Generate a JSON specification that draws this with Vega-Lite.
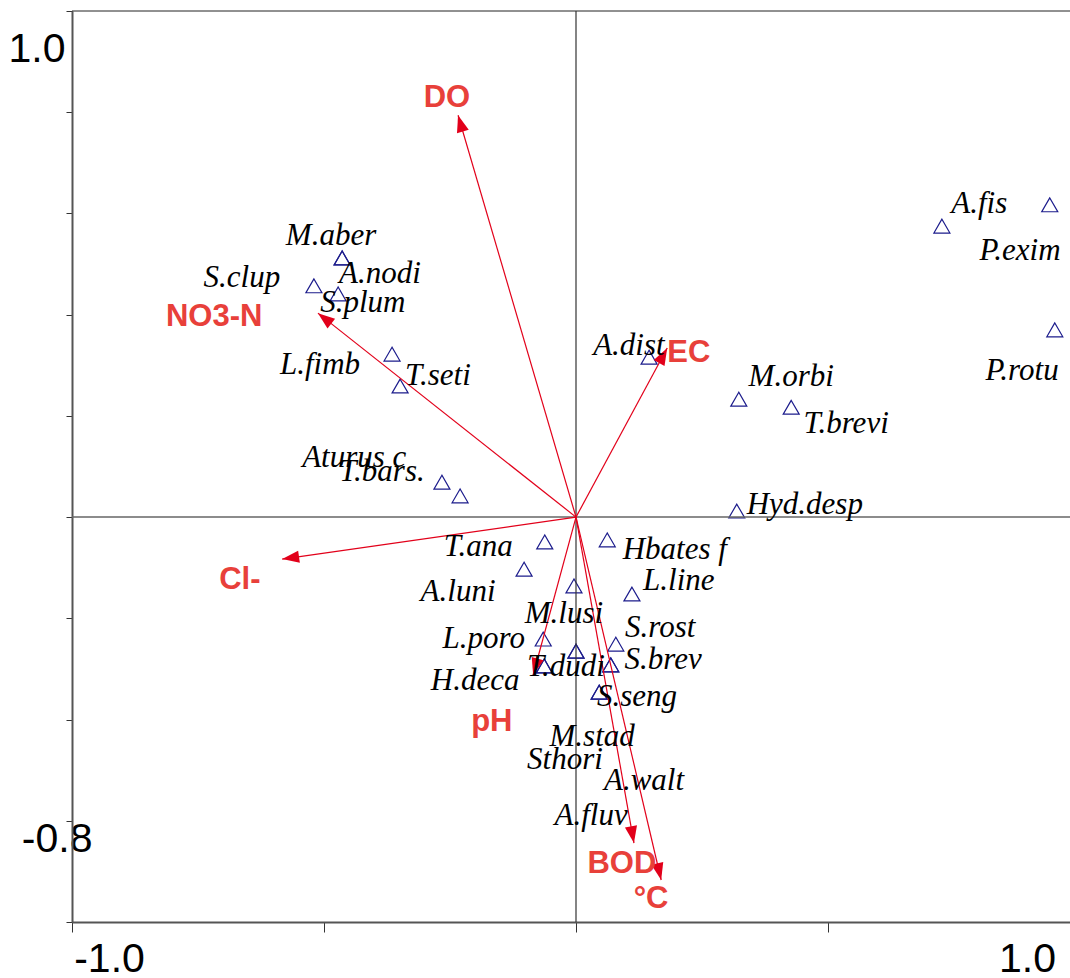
{
  "$schema": "https://vega.github.io/schema/vega-lite/v6.json",
  "width": 998,
  "height": 911,
  "autosize": {"type": "none"},
  "padding": {"left": 72, "top": 11, "right": 0, "bottom": 56},
  "background": "white",
  "config": {"view": {"stroke": null}},
  "datasets": {
    "species": [
      {"name": "A.fis", "x": 0.726, "y": 0.575, "lx": 0.800, "ly": 0.619},
      {"name": "P.exim", "x": 0.940, "y": 0.617, "lx": 0.881, "ly": 0.526},
      {"name": "P.rotu", "x": 0.950, "y": 0.370, "lx": 0.885, "ly": 0.289},
      {"name": "M.aber", "x": -0.464, "y": 0.512, "lx": -0.486, "ly": 0.555},
      {"name": "A.nodi", "x": -0.464, "y": 0.512, "lx": -0.389, "ly": 0.480},
      {"name": "S.clup", "x": -0.520, "y": 0.457, "lx": -0.663, "ly": 0.472},
      {"name": "S.plum", "x": -0.472, "y": 0.441, "lx": -0.423, "ly": 0.423},
      {"name": "L.fimb", "x": -0.365, "y": 0.322, "lx": -0.508, "ly": 0.300},
      {"name": "T.seti", "x": -0.349, "y": 0.259, "lx": -0.274, "ly": 0.279},
      {"name": "A.dist", "x": 0.145, "y": 0.316, "lx": 0.105, "ly": 0.338},
      {"name": "M.orbi", "x": 0.323, "y": 0.233, "lx": 0.427, "ly": 0.277},
      {"name": "T.brevi", "x": 0.427, "y": 0.217, "lx": 0.536, "ly": 0.184},
      {"name": "Hyd.desp", "x": 0.319, "y": 0.012, "lx": 0.454, "ly": 0.024},
      {"name": "Aturus c", "x": -0.266, "y": 0.069, "lx": -0.440, "ly": 0.117},
      {"name": "T.bars.", "x": -0.230, "y": 0.042, "lx": -0.385, "ly": 0.089},
      {"name": "T.ana", "x": -0.062, "y": -0.049, "lx": -0.194, "ly": -0.059},
      {"name": "Hbates f", "x": 0.062, "y": -0.045, "lx": 0.196, "ly": -0.065},
      {"name": "A.luni", "x": -0.103, "y": -0.103, "lx": -0.234, "ly": -0.148},
      {"name": "M.lusi", "x": -0.004, "y": -0.136, "lx": -0.024, "ly": -0.192},
      {"name": "L.line", "x": 0.111, "y": -0.152, "lx": 0.204, "ly": -0.126},
      {"name": "L.poro", "x": -0.065, "y": -0.241, "lx": -0.183, "ly": -0.241},
      {"name": "T.dudi", "x": 0.000, "y": -0.265, "lx": -0.020, "ly": -0.296},
      {"name": "S.rost", "x": 0.079, "y": -0.251, "lx": 0.167, "ly": -0.219},
      {"name": "S.brev", "x": 0.069, "y": -0.292, "lx": 0.173, "ly": -0.283},
      {"name": "H.deca", "x": -0.063, "y": -0.294, "lx": -0.200, "ly": -0.324},
      {"name": "S.seng", "x": 0.046, "y": -0.346, "lx": 0.121, "ly": -0.356},
      {"name": "M.stad", "x": 0.046, "y": -0.346, "lx": 0.032, "ly": -0.435},
      {"name": "Sthori", "x": -0.063, "y": -0.294, "lx": -0.022, "ly": -0.480},
      {"name": "A.walt", "x": 0.069, "y": -0.292, "lx": 0.135, "ly": -0.522},
      {"name": "A.fluv", "x": 0.000, "y": -0.265, "lx": 0.030, "ly": -0.591}
    ],
    "env": [
      {"name": "DO", "x": -0.234, "y": 0.794, "lx": -0.256, "ly": 0.828},
      {"name": "NO3-N", "x": -0.512, "y": 0.403, "lx": -0.718, "ly": 0.395},
      {"name": "EC", "x": 0.181, "y": 0.334, "lx": 0.224, "ly": 0.324},
      {"name": "Cl-", "x": -0.583, "y": -0.083, "lx": -0.667, "ly": -0.125},
      {"name": "pH", "x": -0.085, "y": -0.312, "lx": -0.167, "ly": -0.405},
      {"name": "BOD", "x": 0.115, "y": -0.644, "lx": 0.091, "ly": -0.686},
      {"name": "°C", "x": 0.169, "y": -0.717, "lx": 0.149, "ly": -0.755}
    ]
  },
  "layer": [
    {
      "data": {"name": "species"},
      "mark": {"type": "point", "shape": "triangle-up", "filled": false, "size": 256, "stroke": "#1c1c8c", "strokeWidth": 1.2, "opacity": 1},
      "encoding": {
        "x": {
          "field": "x", "type": "quantitative",
          "scale": {"domain": [-1, 1], "range": [0, 1008], "nice": false, "zero": false},
          "axis": {
            "title": null, "grid": false,
            "values": [-1, -0.5, 0, 0.5, 1],
            "labelExpr": "datum.value == -1 ? '-1.0' : (datum.value == 1 ? '1.0' : '')",
            "labelFont": "Liberation Sans", "labelFontSize": 41, "labelColor": "black",
            "labelAlign": "center", "labelBaseline": "top",
            "labelFlush": false, "labelOverlap": false, "labelBound": false,
            "labelPadding": 7,
            "labelOffset": {"condition": {"test": "datum.value < 0", "value": 37}, "value": -53},
            "tickSize": 10, "tickColor": "#333", "tickWidth": 1,
            "domainColor": "#555", "domainWidth": 2
          }
        },
        "y": {
          "field": "y", "type": "quantitative",
          "scale": {"domain": [-0.8, 1.0], "nice": false, "zero": false},
          "axis": {
            "title": null, "grid": false,
            "values": [-0.8, -0.6, -0.4, -0.2, 0, 0.2, 0.4, 0.6, 0.8, 1.0],
            "labelExpr": "datum.value == 1 ? '1.0' : (datum.value == -0.8 ? '-0.8' : '')",
            "labelFont": "Liberation Sans", "labelFontSize": 41, "labelColor": "black",
            "labelAlign": "right", "labelBaseline": "middle",
            "labelFlush": false, "labelOverlap": false, "labelBound": false,
            "labelPadding": {"condition": {"test": "datum.value > 0", "value": 1}, "value": -26},
            "labelOffset": {"condition": {"test": "datum.value > 0", "value": 38}, "value": -83},
            "tickSize": 6, "tickColor": "#333", "tickWidth": 1,
            "domainColor": "#555", "domainWidth": 2
          }
        }
      }
    },
    {
      "data": {"values": [{"v": 1.0}]},
      "mark": {"type": "rule", "color": "#222", "strokeWidth": 1},
      "encoding": {"y": {"field": "v", "type": "quantitative", "axis": {"title": null}}}
    },
    {
      "data": {"values": [{"v": 0}]},
      "mark": {"type": "rule", "color": "#666", "strokeWidth": 1.5},
      "encoding": {"y": {"field": "v", "type": "quantitative", "axis": {"title": null}}}
    },
    {
      "data": {"values": [{"v": 0}]},
      "mark": {"type": "rule", "color": "#333", "strokeWidth": 1.2},
      "encoding": {"x": {"field": "v", "type": "quantitative", "axis": {"title": null}}}
    },
    {
      "data": {"name": "env"},
      "mark": {"type": "rule", "color": "#E2001A", "strokeWidth": 1.2},
      "encoding": {
        "x": {"field": "x", "type": "quantitative", "axis": {"title": null}},
        "y": {"field": "y", "type": "quantitative", "axis": {"title": null}},
        "x2": {"datum": 0},
        "y2": {"datum": 0}
      }
    },
    {
      "data": {"name": "env"},
      "transform": [{"calculate": "atan2(datum.x, datum.y) * 180 / PI", "as": "ang"}],
      "mark": {"type": "point", "shape": "M0,0L-0.36,1L0.36,1Z", "filled": true, "size": 1156, "color": "#E2001A", "opacity": 1, "strokeWidth": 0},
      "encoding": {
        "x": {"field": "x", "type": "quantitative", "axis": {"title": null}},
        "y": {"field": "y", "type": "quantitative", "axis": {"title": null}},
        "angle": {"field": "ang", "type": "quantitative", "scale": null}
      }
    },
    {
      "data": {"name": "species"},
      "mark": {"type": "text", "font": "Liberation Serif", "fontStyle": "italic", "fontSize": 31, "color": "black", "align": "center", "baseline": "middle"},
      "encoding": {
        "x": {"field": "lx", "type": "quantitative", "axis": {"title": null}},
        "y": {"field": "ly", "type": "quantitative", "axis": {"title": null}},
        "text": {"field": "name"}
      }
    },
    {
      "data": {"name": "env"},
      "mark": {"type": "text", "font": "Liberation Sans", "fontWeight": "bold", "fontSize": 31, "color": "#E8403A", "align": "center", "baseline": "middle"},
      "encoding": {
        "x": {"field": "lx", "type": "quantitative", "axis": {"title": null}},
        "y": {"field": "ly", "type": "quantitative", "axis": {"title": null}},
        "text": {"field": "name"}
      }
    }
  ]
}
